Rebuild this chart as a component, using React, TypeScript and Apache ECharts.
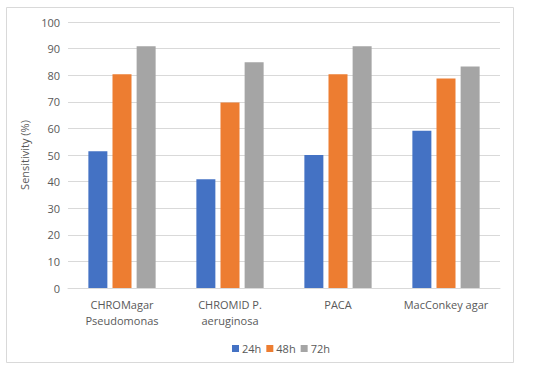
import React, { useEffect, useRef } from "react";
import * as echarts from "echarts";

const categories = ["CHROMagar\nPseudomonas", "CHROMID P.\naeruginosa", "PACA", "MacConkey agar"];
const seriesNames = ["24h", "48h", "72h"];
const values24h = [51.4, 40.9, 50.0, 59.1];
const values48h = [80.4, 69.7, 80.4, 78.8];
const values72h = [90.9, 84.9, 90.9, 83.3];
const colors = ["#4472C4", "#ED7D31", "#A5A5A5"];

export default function App() {
  const ref = useRef<HTMLDivElement>(null);
  useEffect(() => {
    if (!ref.current) return;
    const chart = echarts.init(ref.current, undefined, { renderer: "svg" });
    const font = "Open Sans, Liberation Sans, sans-serif";
    const data = [values24h, values48h, values72h];
    chart.setOption({
      animation: false,
      backgroundColor: "#fff",
      textStyle: { fontFamily: font },
      graphic: [
        {
          type: "rect",
          shape: { x: 6.5, y: 7.5, width: 507, height: 355 },
          style: { fill: "none", stroke: "#d9d9d9", lineWidth: 1 },
          silent: true,
        },
      ],
      grid: { left: 68, right: 50, top: 22, bottom: 82 },
      legend: {
        data: seriesNames,
        top: 338,
        left: 227,
        icon: "rect",
        itemWidth: 7,
        itemHeight: 7,
        itemGap: 5,
        textStyle: { color: "#595959", fontSize: 11, fontFamily: font, padding: [0, 0, 0, -2] },
      },
      xAxis: {
        type: "category",
        data: categories,
        axisLine: { lineStyle: { color: "#d9d9d9" } },
        axisTick: { show: false },
        axisLabel: { color: "#595959", fontSize: 11, lineHeight: 16, margin: 8, interval: 0, fontFamily: font },
      },
      yAxis: {
        type: "value",
        min: 0,
        max: 100,
        interval: 10,
        name: "Sensitivity (%)",
        nameLocation: "middle",
        nameGap: 29,
        nameRotate: 90,
        nameTextStyle: { color: "#595959", fontSize: 11, fontFamily: font },
        axisLine: { show: false },
        axisTick: { show: false },
        axisLabel: { color: "#595959", fontSize: 11, margin: 8, fontFamily: font },
        splitLine: { lineStyle: { color: "#d9d9d9" } },
      },
      series: seriesNames.map((name, i) => ({
        name,
        type: "bar",
        data: data[i],
        barWidth: 19,
        barGap: "27%",
        itemStyle: { color: colors[i] },
      })),
    });
    return () => chart.dispose();
  }, []);
  return (
    <div
      ref={ref}
      style={{ position: "fixed", left: 0, top: 0, width: 550, height: 370 }}
    />
  );
}
